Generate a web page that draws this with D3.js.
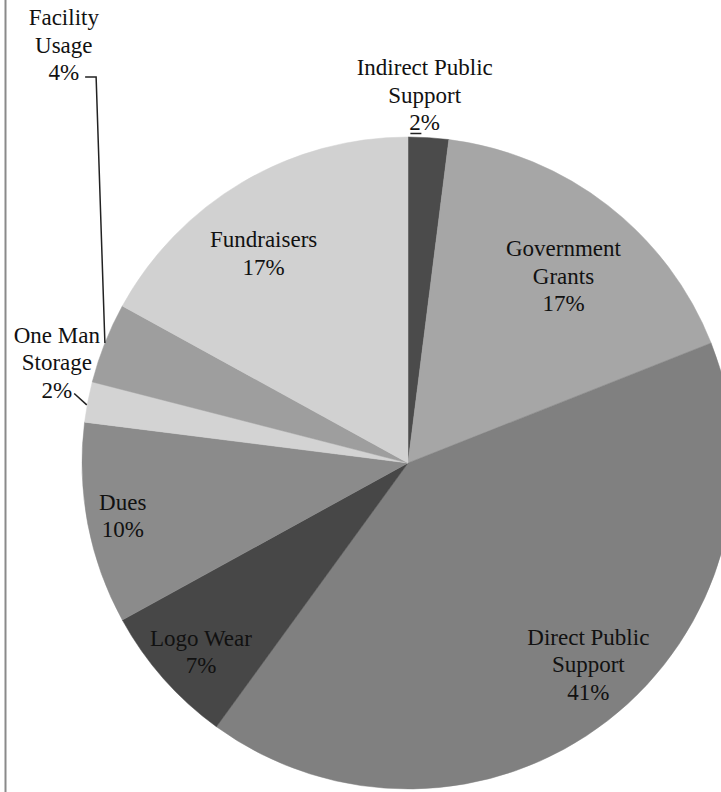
<!DOCTYPE html>
<html>
<head>
<meta charset="utf-8">
<script src="https://cdn.jsdelivr.net/npm/d3@7/dist/d3.min.js"></script>
<style>
  html, body { margin: 0; padding: 0; background: #fff; }
  svg { display: block; }
  .lbl { font-family: "Liberation Serif", "Times New Roman", serif; font-size: 23px; fill: #111; }
</style>
</head>
<body>
<svg id="pie_svg"></svg>
<script>
// Dados do gráfico (sentido horário a partir das 12h)
const categories = ["Indirect Public Support", "Government Grants", "Direct Public Support", "Logo Wear",
                    "Dues", "One Man Storage", "Facility Usage", "Fundraisers"];
const values = [2, 17, 41, 7, 10, 2, 4, 17];
const labelLines = [["Indirect Public", "Support"], ["Government", "Grants"], ["Direct Public", "Support"],
                    ["Logo Wear"], ["Dues"], ["One Man", "Storage"], ["Facility", "Usage"], ["Fundraisers"]];
const fills = ["#4b4b4b", "#a6a6a6", "#808080", "#474747", "#8b8b8b", "#d3d3d3", "#9e9e9e", "#d1d1d1"];

// Ajustes de posição dos rótulos (raio relativo e deslocamento angular em graus)
const labelLayout = [
  { k: 1.13, da: -1, leader: "under" },
  { k: 0.745, da: 2 },
  { k: 0.83, da: -4 },
  { k: 0.86, da: -1 },
  { k: 0.89, da: 0.3 },
  { k: 1.12, da: 5.1, leader: "diag" },
  { k: 1.66, da: 28.9, leader: "elbow" },
  { k: 0.78, da: -4 }
];

const width = 721, height = 792;
const cx = 408, cy = 463, radius = 326;
const lineH = 27.5;

const svg = d3.select("#pie_svg").attr("width", width).attr("height", height);

// Borda esquerda da área do gráfico
svg.append("line")
  .attr("x1", 5.5).attr("x2", 5.5).attr("y1", 0).attr("y2", height)
  .attr("stroke", "#8a8a8a").attr("stroke-width", 2);

const g = svg.append("g").attr("transform", `translate(${cx},${cy})`);

const data = categories.map((c, i) => ({ name: c, value: values[i], i }));
const pie = d3.pie().value(d => d.value).sort(null);
const arcs = pie(data);
const arc = d3.arc().innerRadius(0).outerRadius(radius);

g.selectAll("path.slice")
  .data(arcs)
  .enter().append("path")
  .attr("class", "slice")
  .attr("d", arc)
  .attr("fill", d => fills[d.data.i])
  .attr("stroke", d => fills[d.data.i])
  .attr("stroke-width", 0.5);

const rad = deg => deg * Math.PI / 180;
const polar = (r, a) => [r * Math.sin(a), -r * Math.cos(a)];

arcs.forEach(d => {
  const i = d.data.i;
  const lay = labelLayout[i];
  const mid = (d.startAngle + d.endAngle) / 2;
  const [lx, ly] = polar(radius * lay.k, mid + rad(lay.da));
  const lines = labelLines[i].concat([values[i] + "%"]);
  const top = ly - (lines.length - 1) * lineH / 2;

  const t = g.append("text")
    .attr("class", "lbl")
    .attr("text-anchor", "middle");
  lines.forEach((s, j) => {
    t.append("tspan")
      .attr("x", lx)
      .attr("y", top + j * lineH)
      .attr("dominant-baseline", "central")
      .text(s);
  });

  if (!lay.leader) return;
  // Linha guia do último rótulo até a borda da fatia
  const last = t.selectAll("tspan").nodes().slice(-1)[0];
  const w = last.getComputedTextLength();
  const lastY = top + (lines.length - 1) * lineH;
  const [ex, ey] = polar(radius, mid);
  let pts;
  if (lay.leader === "elbow") {
    pts = [[lx + w / 2 + 6, lastY + 4], [lx + w / 2 + 17, lastY + 4], [ex, ey]];
  } else if (lay.leader === "diag") {
    pts = [[lx + w / 2 + 2, lastY + 3], [ex - 1, ey + 3]];
  } else {
    pts = [[lx - w / 2 + 1, lastY + 11], [lx - w / 2 + 12, lastY + 11]];
  }
  g.append("path")
    .attr("d", d3.line()(pts))
    .attr("fill", "none")
    .attr("stroke", "#222")
    .attr("stroke-width", 1.5);
});
</script>
</body>
</html>
